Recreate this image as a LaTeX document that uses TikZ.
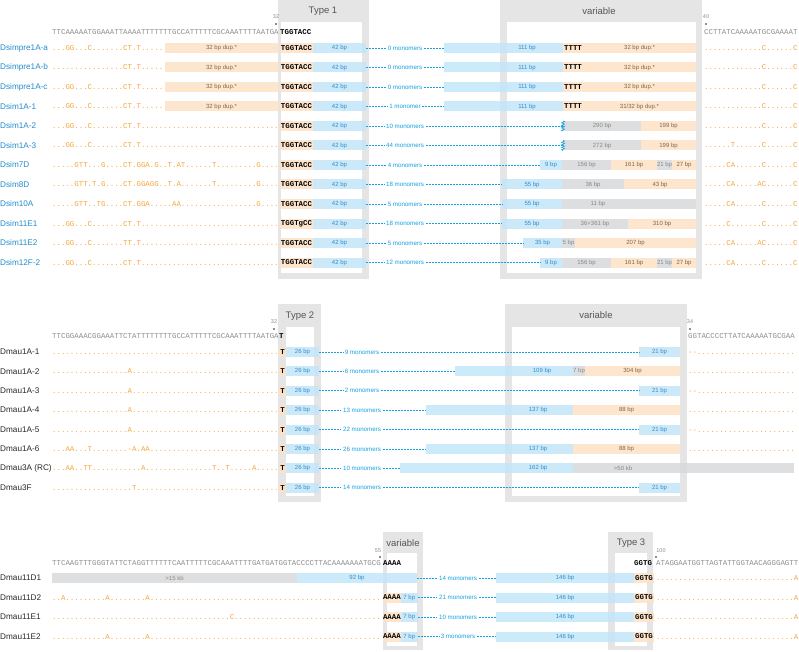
\documentclass[tikz,border=0pt]{standalone}
\usepackage{fontspec}
\setmainfont{Liberation Sans}
\newfontfamily\seqfam{Liberation Mono}
\usepackage{tikz}
\usetikzlibrary{
  positioning,
  decorations.pathmorphing
}
\definecolor{SimBlue}{RGB}{35,140,205}
\definecolor{NameBlack}{RGB}{40,40,40}
\definecolor{RefGray}{RGB}{140,140,140}
\definecolor{DotOrange}{RGB}{245,165,60}
\definecolor{SegBlue}{RGB}{194,230,249}
\definecolor{SegOrange}{RGB}{253,226,197}
\definecolor{SegGray}{RGB}{216,217,219}
\definecolor{SegBlueText}{RGB}{50,140,205}
\definecolor{SegOrangeText}{RGB}{130,100,70}
\definecolor{SegGrayText}{RGB}{135,135,135}
\definecolor{LinkBlue}{RGB}{20,160,225}
\definecolor{PanelGray}{RGB}{229,229,229}
\definecolor{HeadGray}{RGB}{85,85,85}
\ExplSyntaxOn
\cs_new:Npn \dotrun #1 { \prg_replicate:nn {#1} {.} }
\ExplSyntaxOff
\newcommand\seqsize{\seqfam\fontsize{7.4}{8}\selectfont}
\newcommand\motifsize{\seqfam\bfseries\fontsize{7.4}{8}\selectfont}
\newcommand\namesize{\fontsize{8.2}{9}\selectfont}
\newcommand\boxsize{\fontsize{6}{7}\selectfont}
\newcommand\countsize{\fontsize{6.2}{7}\selectfont}
\newcommand\headsize{\fontsize{9.5}{11}\selectfont}
\newcommand\marksize{\fontsize{5.5}{6}\selectfont}
\tikzset{
  namelbl/.style={anchor=west, inner sep=0pt, font=\namesize},
  simname/.style={namelbl, text=SimBlue},
  mauname/.style={namelbl, text=NameBlack},
  refseq/.style={anchor=base west, inner sep=0pt, font=\seqsize, text=RefGray},
  varseq/.style={anchor=base west, inner sep=0pt, font=\seqsize, text=DotOrange},
  seg/.style={anchor=west, inner sep=0pt, outer sep=0pt, minimum height=10pt,
    fill opacity=.85, text opacity=1, font=\boxsize},
  blueseg/.style={seg, fill=SegBlue, text=SegBlueText},
  orangeseg/.style={seg, fill=SegOrange, text=SegOrangeText},
  grayseg/.style={seg, fill=SegGray, text=SegGrayText},
  motifseg/.style={orangeseg, font=\motifsize, text=black},
  segtext/.style={inner sep=0pt, font=\boxsize},
  monolbl/.style={inner sep=1.5pt, font=\countsize, text=LinkBlue},
  linkline/.style={draw=LinkBlue, line width=.7pt, dash pattern=on 2pt off 1pt},
  cutmark/.style={draw=LinkBlue, line width=.6pt, decorate,
    decoration={zigzag, segment length=2.5pt, amplitude=1.6pt}},
  panelfill/.style={fill=PanelGray},
  headtext/.style={font=\headsize, text=HeadGray, inner sep=0pt},
  posnum/.style={font=\marksize, text=RefGray, inner sep=0pt}
}

\begin{document}
\begin{tikzpicture}[x=1pt, y=-1pt]
  \useasboundingbox (0,0) rectangle (799,652);

  % D. simulans copies, type 1 junction
  \fill[panelfill] (278,0) rectangle (369,279);
  \fill[white] (281,22) rectangle (362,273);
  \fill[panelfill] (500,0) rectangle (702,279);
  \fill[white] (507,22) rectangle (696,273);
  \node[headtext] (t1-head) at (323,11) {Type 1};
  \node[headtext] (v1-head) at (599,11) {variable};

  \node[posnum] (t1-pos) at (276,17) {32};
  \fill[black!60] (276,24) circle (1.2pt);
  \node[posnum] (v1-pos) at (706,17) {40};
  \fill[black!60] (706,24) circle (1.2pt);

  \node[refseq] (ref1-left) at (52,34.5) {TTCAAAAATGGAAATTAAAATTTTTTTGCCATTTTTCGCAAATTTTAATGA};
  \node[refseq, font=\motifsize, text=black] (ref1-motif) at (280,34.5) {TGGTACC};
  \node[refseq] (ref1-right) at (704,34.5) {CCTTATCAAAAATGCGAAAAT};

  \node[simname] (pa-name) at (0,48) {Dsimpre1A-a};
  \node[varseq] (pa-left) at (52,50.5) {\dotrun{3}GG\dotrun{3}C\dotrun{7}CT.T\dotrun{5}};
  \node[orangeseg, minimum width=113] (pa-dup) at (165,48) {32 bp dup.*};
  \node[motifseg, minimum width=33] (pa-motif) at (280,48) {TGGTACC};
  \node[blueseg, minimum width=53, right=0pt of pa-motif] (pa-core) {42 bp};
  \node[monolbl] (pa-count) at (405,48) {0 monomers};
  \node[blueseg, minimum width=119] (pa-var) at (444,48) {};
  \node[segtext, text=SegBlueText] (pa-len) at (527,48) {111 bp};
  \node[motifseg, minimum width=20, right=0pt of pa-var] (pa-tttt) {TTTT};
  \node[orangeseg, minimum width=113, right=0pt of pa-tttt] (pa-dup2) {32 bp dup.*};
  \node[varseq] (pa-right) at (704,50.5) {\dotrun{13}C\dotrun{6}C};
  \draw[linkline] (pa-core) -- (pa-count) (pa-count) -- (pa-var);

  \node[simname] (pb-name) at (0,67.5) {Dsimpre1A-b};
  \node[varseq] (pb-left) at (52,70) {\dotrun{16}CT.T\dotrun{5}};
  \node[orangeseg, minimum width=113] (pb-dup) at (165,67.5) {32 bp dup.*};
  \node[motifseg, minimum width=33] (pb-motif) at (280,67.5) {TGGTACC};
  \node[blueseg, minimum width=53, right=0pt of pb-motif] (pb-core) {42 bp};
  \node[monolbl] (pb-count) at (405,67.5) {0 monomers};
  \node[blueseg, minimum width=119] (pb-var) at (444,67.5) {};
  \node[segtext, text=SegBlueText] (pb-len) at (527,67.5) {111 bp};
  \node[motifseg, minimum width=20, right=0pt of pb-var] (pb-tttt) {TTTT};
  \node[orangeseg, minimum width=113, right=0pt of pb-tttt] (pb-dup2) {32 bp dup.*};
  \node[varseq] (pb-right) at (704,70) {\dotrun{13}C\dotrun{6}C};
  \draw[linkline] (pb-core) -- (pb-count) (pb-count) -- (pb-var);

  \node[simname] (pc-name) at (0,87) {Dsimpre1A-c};
  \node[varseq] (pc-left) at (52,89.5) {\dotrun{3}GG\dotrun{3}C\dotrun{7}CT.T\dotrun{5}};
  \node[orangeseg, minimum width=113] (pc-dup) at (165,87) {32 bp dup.*};
  \node[motifseg, minimum width=33] (pc-motif) at (280,87) {TGGTACC};
  \node[blueseg, minimum width=53, right=0pt of pc-motif] (pc-core) {42 bp};
  \node[monolbl] (pc-count) at (405,87) {0 monomers};
  \node[blueseg, minimum width=119] (pc-var) at (444,87) {};
  \node[segtext, text=SegBlueText] (pc-len) at (527,87) {111 bp};
  \node[motifseg, minimum width=20, right=0pt of pc-var] (pc-tttt) {TTTT};
  \node[orangeseg, minimum width=113, right=0pt of pc-tttt] (pc-dup2) {32 bp dup.*};
  \node[varseq] (pc-right) at (704,89.5) {\dotrun{13}C\dotrun{6}C};
  \draw[linkline] (pc-core) -- (pc-count) (pc-count) -- (pc-var);

  \node[simname] (s1a-name) at (0,106.5) {Dsim1A-1};
  \node[varseq] (s1a-left) at (52,109) {\dotrun{3}GG\dotrun{3}C\dotrun{7}CT.T\dotrun{5}};
  \node[orangeseg, minimum width=113] (s1a-dup) at (165,106.5) {32 bp dup.*};
  \node[motifseg, minimum width=33] (s1a-motif) at (280,106.5) {TGGTACC};
  \node[blueseg, minimum width=53, right=0pt of s1a-motif] (s1a-core) {42 bp};
  \node[monolbl] (s1a-count) at (405,106.5) {1 monomer};
  \node[blueseg, minimum width=119] (s1a-var) at (444,106.5) {};
  \node[segtext, text=SegBlueText] (s1a-len) at (527,106.5) {111 bp};
  \node[motifseg, minimum width=20, right=0pt of s1a-var] (s1a-tttt) {TTTT};
  \node[orangeseg, minimum width=113, right=0pt of s1a-tttt] (s1a-dup2) {31/32 bp dup.*};
  \node[varseq] (s1a-right) at (704,109) {\dotrun{13}C\dotrun{6}C};
  \draw[linkline] (s1a-core) -- (s1a-count) (s1a-count) -- (s1a-var);

  \node[simname] (s1b-name) at (0,126) {Dsim1A-2};
  \node[varseq] (s1b-left) at (52,128.5) {\dotrun{3}GG\dotrun{3}C\dotrun{7}CT.T\dotrun{31}};
  \node[motifseg, minimum width=33] (s1b-motif) at (280,126) {TGGTACC};
  \node[blueseg, minimum width=53, right=0pt of s1b-motif] (s1b-core) {42 bp};
  \node[monolbl] (s1b-count) at (405,126) {10 monomers};
  \node[grayseg, minimum width=78] (s1b-del) at (563,126) {290 bp};
  \node[orangeseg, minimum width=55, right=0pt of s1b-del] (s1b-tail) {199 bp};
  \node[varseq] (s1b-right) at (704,128.5) {\dotrun{13}C\dotrun{6}C};
  \draw[linkline] (s1b-core) -- (s1b-count) (s1b-count) -- (s1b-del);
  \draw[cutmark] (s1b-del.north west) -- (s1b-del.south west);

  \node[simname] (s1c-name) at (0,145.5) {Dsim1A-3};
  \node[varseq] (s1c-left) at (52,148) {\dotrun{3}GG\dotrun{3}C\dotrun{7}CT.T\dotrun{31}};
  \node[motifseg, minimum width=33] (s1c-motif) at (280,145.5) {TGGTACC};
  \node[blueseg, minimum width=53, right=0pt of s1c-motif] (s1c-core) {42 bp};
  \node[monolbl] (s1c-count) at (405,145.5) {44 monomers};
  \node[grayseg, minimum width=78] (s1c-del) at (563,145.5) {272 bp};
  \node[orangeseg, minimum width=55, right=0pt of s1c-del] (s1c-tail) {199 bp};
  \node[varseq] (s1c-right) at (704,148) {\dotrun{6}T\dotrun{6}C\dotrun{6}C};
  \draw[linkline] (s1c-core) -- (s1c-count) (s1c-count) -- (s1c-del);
  \draw[cutmark] (s1c-del.north west) -- (s1c-del.south west);

  \node[simname] (s7d-name) at (0,165) {Dsim7D};
  \node[varseq] (s7d-left) at (52,167.5) {\dotrun{5}GTT\dotrun{3}G\dotrun{4}CT.GGA.G..T.AT\dotrun{6}T\dotrun{9}G\dotrun{4}};
  \node[motifseg, minimum width=33] (s7d-motif) at (280,165) {TGGTACC};
  \node[blueseg, minimum width=53, right=0pt of s7d-motif] (s7d-core) {42 bp};
  \node[monolbl] (s7d-count) at (405,165) {4 monomers};
  \node[blueseg, minimum width=22] (s7d-var) at (540,165) {9 bp};
  \node[grayseg, minimum width=49, right=0pt of s7d-var] (s7d-g1) {156 bp};
  \node[orangeseg, minimum width=46, right=0pt of s7d-g1] (s7d-o1) {161 bp};
  \node[grayseg, minimum width=15, right=0pt of s7d-o1] (s7d-g2) {21 bp};
  \node[orangeseg, minimum width=24, right=0pt of s7d-g2] (s7d-o2) {27 bp};
  \node[varseq] (s7d-right) at (704,167.5) {\dotrun{5}CA\dotrun{6}C\dotrun{6}C};
  \draw[linkline] (s7d-core) -- (s7d-count) (s7d-count) -- (s7d-var);

  \node[simname] (s8d-name) at (0,184.5) {Dsim8D};
  \node[varseq] (s8d-left) at (52,187) {\dotrun{5}GTT.T.G\dotrun{4}CT.GGAGG..T.A\dotrun{7}T\dotrun{9}G\dotrun{4}};
  \node[motifseg, minimum width=33] (s8d-motif) at (280,184.5) {TGGTACC};
  \node[blueseg, minimum width=53, right=0pt of s8d-motif] (s8d-core) {42 bp};
  \node[monolbl] (s8d-count) at (405,184.5) {18 monomers};
  \node[blueseg, minimum width=60] (s8d-var) at (502,184.5) {55 bp};
  \node[grayseg, minimum width=62, right=0pt of s8d-var] (s8d-g1) {36 bp};
  \node[orangeseg, minimum width=72, right=0pt of s8d-g1] (s8d-o1) {43 bp};
  \node[varseq] (s8d-right) at (704,187) {\dotrun{5}CA\dotrun{5}AC\dotrun{6}C};
  \draw[linkline] (s8d-core) -- (s8d-count) (s8d-count) -- (s8d-var);

  \node[simname] (s10a-name) at (0,204) {Dsim10A};
  \node[varseq] (s10a-left) at (52,206.5) {\dotrun{5}GTT..TG\dotrun{4}CT.GGA\dotrun{5}AA\dotrun{17}G\dotrun{4}};
  \node[motifseg, minimum width=33] (s10a-motif) at (280,204) {TGGTACC};
  \node[blueseg, minimum width=53, right=0pt of s10a-motif] (s10a-core) {42 bp};
  \node[monolbl] (s10a-count) at (405,204) {5 monomers};
  \node[blueseg, minimum width=60] (s10a-var) at (502,204) {55 bp};
  \node[grayseg, minimum width=134, right=0pt of s10a-var] (s10a-g1) {};
  \node[segtext, text=SegGrayText] (s10a-len) at (598,204) {11 bp};
  \node[varseq] (s10a-right) at (704,206.5) {\dotrun{5}CA\dotrun{6}C\dotrun{6}C};
  \draw[linkline] (s10a-core) -- (s10a-count) (s10a-count) -- (s10a-var);

  \node[simname] (s11e1-name) at (0,223.5) {Dsim11E1};
  \node[varseq] (s11e1-left) at (52,226) {\dotrun{3}GG\dotrun{3}C\dotrun{7}CT.T\dotrun{31}};
  \node[motifseg, minimum width=33] (s11e1-motif) at (280,223.5) {TGGTgCC};
  \node[blueseg, minimum width=53, right=0pt of s11e1-motif] (s11e1-core) {42 bp};
  \node[monolbl] (s11e1-count) at (405,223.5) {18 monomers};
  \node[blueseg, minimum width=60] (s11e1-var) at (502,223.5) {55 bp};
  \node[grayseg, minimum width=66, right=0pt of s11e1-var] (s11e1-g1) {36+361 bp};
  \node[orangeseg, minimum width=68, right=0pt of s11e1-g1] (s11e1-o1) {310 bp};
  \node[varseq] (s11e1-right) at (704,226) {\dotrun{5}C\dotrun{7}C\dotrun{6}C};
  \draw[linkline] (s11e1-core) -- (s11e1-count) (s11e1-count) -- (s11e1-var);

  \node[simname] (s11e2-name) at (0,243) {Dsim11E2};
  \node[varseq] (s11e2-left) at (52,245.5) {\dotrun{3}GG\dotrun{3}C\dotrun{7}TT.T\dotrun{31}};
  \node[motifseg, minimum width=33] (s11e2-motif) at (280,243) {TGGTACC};
  \node[blueseg, minimum width=53, right=0pt of s11e2-motif] (s11e2-core) {42 bp};
  \node[monolbl] (s11e2-count) at (405,243) {5 monomers};
  \node[blueseg, minimum width=39] (s11e2-var) at (523,243) {35 bp};
  \node[grayseg, minimum width=13, right=0pt of s11e2-var] (s11e2-g1) {5 bp};
  \node[orangeseg, minimum width=121, right=0pt of s11e2-g1] (s11e2-o1) {207 bp};
  \node[varseq] (s11e2-right) at (704,245.5) {\dotrun{5}CA\dotrun{5}AC\dotrun{6}C};
  \draw[linkline] (s11e2-core) -- (s11e2-count) (s11e2-count) -- (s11e2-var);

  \node[simname] (s12f-name) at (0,262.5) {Dsim12F-2};
  \node[varseq] (s12f-left) at (52,265) {\dotrun{3}GG\dotrun{3}C\dotrun{7}CT.T\dotrun{31}};
  \node[motifseg, minimum width=33] (s12f-motif) at (280,262.5) {TGGTACC};
  \node[blueseg, minimum width=53, right=0pt of s12f-motif] (s12f-core) {42 bp};
  \node[monolbl] (s12f-count) at (405,262.5) {12 monomers};
  \node[blueseg, minimum width=22] (s12f-var) at (540,262.5) {9 bp};
  \node[grayseg, minimum width=49, right=0pt of s12f-var] (s12f-g1) {156 bp};
  \node[orangeseg, minimum width=46, right=0pt of s12f-g1] (s12f-o1) {161 bp};
  \node[grayseg, minimum width=15, right=0pt of s12f-o1] (s12f-g2) {21 bp};
  \node[orangeseg, minimum width=24, right=0pt of s12f-g2] (s12f-o2) {27 bp};
  \node[varseq] (s12f-right) at (704,265) {\dotrun{5}CA\dotrun{6}C\dotrun{6}C};
  \draw[linkline] (s12f-core) -- (s12f-count) (s12f-count) -- (s12f-var);

  % D. mauritiana copies, type 2 junction
  \fill[panelfill] (278,304) rectangle (321,502);
  \fill[white] (286,327) rectangle (314,496);
  \fill[panelfill] (505,304) rectangle (687,502);
  \fill[white] (512,327) rectangle (680,496);
  \node[headtext] (t2-head) at (300,316) {Type 2};
  \node[headtext] (v2-head) at (596,315) {variable};

  \node[posnum] (t2-pos) at (274,322) {32};
  \fill[black!60] (274,329) circle (1.2pt);
  \node[posnum] (v2-pos) at (690,322) {34};
  \fill[black!60] (690,329) circle (1.2pt);

  \node[refseq] (ref2-left) at (52,338.5) {TTCGGAAACGGAAATTCTATTTTTTTTGCCATTTTTCGCAAATTTTAATGA};
  \node[refseq, font=\motifsize, text=black] (ref2-motif) at (279,338.5) {T};
  \node[refseq] (ref2-right) at (688,338.5) {GGTACCCCTTATCAAAAATGCGAA};

  \node[mauname] (m1a1-name) at (0,352) {Dmau1A-1};
  \node[varseq] (m1a1-left) at (52,354.5) {\dotrun{51}};
  \node[motifseg, minimum width=7] (m1a1-motif) at (279,352) {T};
  \node[blueseg, minimum width=33, right=0pt of m1a1-motif] (m1a1-core) {26 bp};
  \node[monolbl] (m1a1-count) at (362,352) {9 monomers};
  \node[blueseg, minimum width=41] (m1a1-var) at (639,352) {21 bp};
  \node[varseq] (m1a1-right) at (688,354.5) {-\kern0pt-\dotrun{22}};
  \draw[linkline] (m1a1-core) -- (m1a1-count) (m1a1-count) -- (m1a1-var);

  \node[mauname] (m1a2-name) at (0,371.4) {Dmau1A-2};
  \node[varseq] (m1a2-left) at (52,373.9) {\dotrun{17}A\dotrun{33}};
  \node[motifseg, minimum width=7] (m1a2-motif) at (279,371.4) {T};
  \node[blueseg, minimum width=33, right=0pt of m1a2-motif] (m1a2-core) {26 bp};
  \node[monolbl] (m1a2-count) at (362,371.4) {6 monomers};
  \node[blueseg, minimum width=118] (m1a2-var) at (455,371.4) {};
  \node[segtext, text=SegBlueText] (m1a2-len) at (542,371.4) {109 bp};
  \node[grayseg, minimum width=12, right=0pt of m1a2-var] (m1a2-g1) {7 bp};
  \node[orangeseg, minimum width=95, right=0pt of m1a2-g1] (m1a2-o1) {304 bp};
  \node[varseq] (m1a2-right) at (688,373.9) {\dotrun{24}};
  \draw[linkline] (m1a2-core) -- (m1a2-count) (m1a2-count) -- (m1a2-var);

  \node[mauname] (m1a3-name) at (0,390.8) {Dmau1A-3};
  \node[varseq] (m1a3-left) at (52,393.3) {\dotrun{17}A\dotrun{33}};
  \node[motifseg, minimum width=7] (m1a3-motif) at (279,390.8) {T};
  \node[blueseg, minimum width=33, right=0pt of m1a3-motif] (m1a3-core) {26 bp};
  \node[monolbl] (m1a3-count) at (362,390.8) {2 monomers};
  \node[blueseg, minimum width=41] (m1a3-var) at (639,390.8) {21 bp};
  \node[varseq] (m1a3-right) at (688,393.3) {-\kern0pt-\dotrun{22}};
  \draw[linkline] (m1a3-core) -- (m1a3-count) (m1a3-count) -- (m1a3-var);

  \node[mauname] (m1a4-name) at (0,410.2) {Dmau1A-4};
  \node[varseq] (m1a4-left) at (52,412.7) {\dotrun{17}A\dotrun{33}};
  \node[motifseg, minimum width=7] (m1a4-motif) at (279,410.2) {T};
  \node[blueseg, minimum width=33, right=0pt of m1a4-motif] (m1a4-core) {26 bp};
  \node[monolbl] (m1a4-count) at (362,410.2) {13 monomers};
  \node[blueseg, minimum width=147] (m1a4-var) at (426,410.2) {};
  \node[segtext, text=SegBlueText] (m1a4-len) at (538,410.2) {137 bp};
  \node[orangeseg, minimum width=107, right=0pt of m1a4-var] (m1a4-o1) {88 bp};
  \node[varseq] (m1a4-right) at (688,412.7) {\dotrun{24}};
  \draw[linkline] (m1a4-core) -- (m1a4-count) (m1a4-count) -- (m1a4-var);

  \node[mauname] (m1a5-name) at (0,429.6) {Dmau1A-5};
  \node[varseq] (m1a5-left) at (52,432.1) {\dotrun{17}A\dotrun{33}};
  \node[motifseg, minimum width=7] (m1a5-motif) at (279,429.6) {T};
  \node[blueseg, minimum width=33, right=0pt of m1a5-motif] (m1a5-core) {26 bp};
  \node[monolbl] (m1a5-count) at (362,429.6) {22 monomers};
  \node[blueseg, minimum width=41] (m1a5-var) at (639,429.6) {21 bp};
  \node[varseq] (m1a5-right) at (688,432.1) {-\kern0pt-\dotrun{22}};
  \draw[linkline] (m1a5-core) -- (m1a5-count) (m1a5-count) -- (m1a5-var);

  \node[mauname] (m1a6-name) at (0,449) {Dmau1A-6};
  \node[varseq] (m1a6-left) at (52,451.5) {\dotrun{3}AA\dotrun{3}T\dotrun{8}-A.AA\dotrun{29}};
  \node[motifseg, minimum width=7] (m1a6-motif) at (279,449) {T};
  \node[blueseg, minimum width=33, right=0pt of m1a6-motif] (m1a6-core) {26 bp};
  \node[monolbl] (m1a6-count) at (362,449) {26 monomers};
  \node[blueseg, minimum width=147] (m1a6-var) at (426,449) {};
  \node[segtext, text=SegBlueText] (m1a6-len) at (538,449) {137 bp};
  \node[orangeseg, minimum width=107, right=0pt of m1a6-var] (m1a6-o1) {88 bp};
  \node[varseq] (m1a6-right) at (688,451.5) {\dotrun{24}};
  \draw[linkline] (m1a6-core) -- (m1a6-count) (m1a6-count) -- (m1a6-var);

  \node[mauname] (m3a-name) at (0,468.4) {Dmau3A (RC)};
  \node[varseq] (m3a-left) at (52,470.9) {\dotrun{3}AA..TT\dotrun{11}A\dotrun{15}T..T\dotrun{5}A\dotrun{5}};
  \node[motifseg, minimum width=7] (m3a-motif) at (279,468.4) {T};
  \node[blueseg, minimum width=33, right=0pt of m3a-motif] (m3a-core) {26 bp};
  \node[monolbl] (m3a-count) at (362,468.4) {10 monomers};
  \node[blueseg, minimum width=173] (m3a-var) at (400,468.4) {};
  \node[segtext, text=SegBlueText] (m3a-len) at (538,468.4) {162 bp};
  \node[grayseg, minimum width=221, right=0pt of m3a-var] (m3a-g1) {};
  \node[segtext, text=SegGrayText] (m3a-ins) at (623,468.4) {>50 kb};
  \draw[linkline] (m3a-core) -- (m3a-count) (m3a-count) -- (m3a-var);

  \node[mauname] (m3f-name) at (0,487.8) {Dmau3F};
  \node[varseq] (m3f-left) at (52,490.3) {\dotrun{18}T\dotrun{32}};
  \node[motifseg, minimum width=7] (m3f-motif) at (279,487.8) {T};
  \node[blueseg, minimum width=33, right=0pt of m3f-motif] (m3f-core) {26 bp};
  \node[monolbl] (m3f-count) at (362,487.8) {14 monomers};
  \node[blueseg, minimum width=41] (m3f-var) at (639,487.8) {21 bp};
  \draw[linkline] (m3f-core) -- (m3f-count) (m3f-count) -- (m3f-var);

  % D. mauritiana copies, type 3 junction
  \fill[panelfill] (383,532) rectangle (423,650);
  \fill[white] (387,553) rectangle (417,646);
  \fill[panelfill] (608,532) rectangle (653,650);
  \fill[white] (615,553) rectangle (647,646);
  \node[headtext] (v3-head) at (403,543) {variable};
  \node[headtext] (t3-head) at (631,543) {Type 3};

  \node[posnum] (v3-pos) at (378,551) {55};
  \fill[black!60] (380,557) circle (1.2pt);
  \node[posnum] (t3-pos) at (661,551) {100};
  \fill[black!60] (656,557) circle (1.2pt);

  \node[refseq] (ref3-left) at (52,565.5) {TTCAAGTTTGGGTATTCTAGGTTTTTTCAATTTTTCGCAAATTTTGATGATGGTACCCCTTACAAAAAAATGCG};
  \node[refseq, font=\motifsize, text=black] (ref3-motif) at (383,565.5) {AAAA};
  \node[refseq, font=\motifsize, text=black] (ref3-motif2) at (634,565.5) {GGTG};
  \node[refseq] (ref3-right) at (656,565.5) {ATAGGAATGGTTAGTATTGGTAACAGGGAGTT};

  \node[mauname] (d11d1-name) at (0,578) {Dmau11D1};
  \node[grayseg, minimum width=245] (d11d1-ins) at (52,578) {>15 kb};
  \node[blueseg, minimum width=120, right=0pt of d11d1-ins] (d11d1-var) {92 bp};
  \node[monolbl] (d11d1-count) at (458,578) {14 monomers};
  \node[blueseg, minimum width=138] (d11d1-core) at (496,578) {146 bp};
  \node[motifseg, minimum width=20, right=0pt of d11d1-core] (d11d1-motif) {GGTG};
  \node[varseq] (d11d1-right) at (656,580.5) {\dotrun{31}A};
  \draw[linkline] (d11d1-var) -- (d11d1-count) (d11d1-count) -- (d11d1-core);

  \node[mauname] (d11d2-name) at (0,597.5) {Dmau11D2};
  \node[varseq] (d11d2-left) at (52,600) {\dotrun{2}A\dotrun{9}A\dotrun{8}A\dotrun{52}};
  \node[motifseg, minimum width=17] (d11d2-tail) at (383,597.5) {AAAA};
  \node[blueseg, minimum width=17, right=0pt of d11d2-tail] (d11d2-var) {7 bp};
  \node[monolbl] (d11d2-count) at (458,597.5) {21 monomers};
  \node[blueseg, minimum width=138] (d11d2-core) at (496,597.5) {146 bp};
  \node[motifseg, minimum width=20, right=0pt of d11d2-core] (d11d2-motif) {GGTG};
  \node[varseq] (d11d2-right) at (656,600) {\dotrun{31}A};
  \draw[linkline] (d11d2-var) -- (d11d2-count) (d11d2-count) -- (d11d2-core);

  \node[mauname] (d11e1-name) at (0,617) {Dmau11E1};
  \node[varseq] (d11e1-left) at (52,619.5) {\dotrun{40}C\dotrun{33}};
  \node[motifseg, minimum width=17] (d11e1-tail) at (383,617) {AAAA};
  \node[blueseg, minimum width=17, right=0pt of d11e1-tail] (d11e1-var) {7 bp};
  \node[monolbl] (d11e1-count) at (458,617) {10 monomers};
  \node[blueseg, minimum width=138] (d11e1-core) at (496,617) {146 bp};
  \node[motifseg, minimum width=20, right=0pt of d11e1-core] (d11e1-motif) {GGTG};
  \node[varseq] (d11e1-right) at (656,619.5) {\dotrun{31}A};
  \draw[linkline] (d11e1-var) -- (d11e1-count) (d11e1-count) -- (d11e1-core);

  \node[mauname] (d11e2-name) at (0,636.5) {Dmau11E2};
  \node[varseq] (d11e2-left) at (52,639) {\dotrun{12}A\dotrun{8}A\dotrun{52}};
  \node[motifseg, minimum width=17] (d11e2-tail) at (383,636.5) {AAAA};
  \node[blueseg, minimum width=17, right=0pt of d11e2-tail] (d11e2-var) {7 bp};
  \node[monolbl] (d11e2-count) at (458,636.5) {3 monomers};
  \node[blueseg, minimum width=138] (d11e2-core) at (496,636.5) {146 bp};
  \node[motifseg, minimum width=20, right=0pt of d11e2-core] (d11e2-motif) {GGTG};
  \node[varseq] (d11e2-right) at (656,639) {\dotrun{31}A};
  \draw[linkline] (d11e2-var) -- (d11e2-count) (d11e2-count) -- (d11e2-core);
\end{tikzpicture}
\end{document}
